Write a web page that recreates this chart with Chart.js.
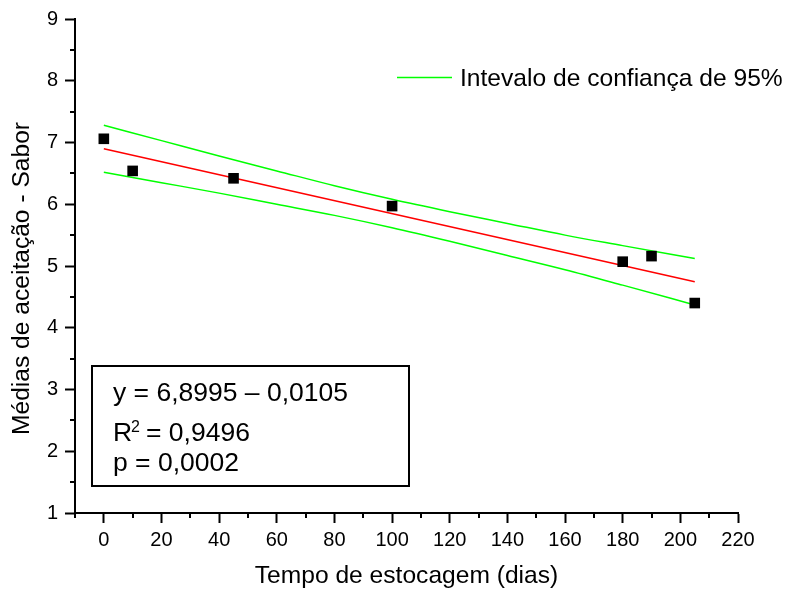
<!DOCTYPE html>
<html><head><meta charset="utf-8">
<script src="https://cdn.jsdelivr.net/npm/chart.js@4"></script>
<style>html,body{margin:0;padding:0;background:#fff}#wrap{width:790px;height:589px}</style>
</head><body><div id="wrap"><canvas id="c" width="790" height="589"></canvas></div>
<script>
// ---- data ----
const storageDays = [0, 10, 45, 100, 180, 190, 205];
const flavorMeans = [7.06, 6.54, 6.42, 5.97, 5.07, 5.16, 4.40];
const fitDays = [0, 205];
const fitValues = [6.90, 4.745];
const bandDays = [0, 20, 40, 60, 80, 100, 120, 140, 160, 180, 205];
const upperBand = [7.28, 7.03, 6.78, 6.54, 6.30, 6.08, 5.88, 5.69, 5.50, 5.33, 5.12];
const lowerBand = [6.52, 6.35, 6.18, 6.00, 5.82, 5.62, 5.40, 5.17, 4.94, 4.69, 4.37];
const xMajorTicks = [0, 20, 40, 60, 80, 100, 120, 140, 160, 180, 200, 220];
const xMinorTicks = [-10, 10, 30, 50, 70, 90, 110, 130, 150, 170, 190, 210];
const yMajorTicks = [1, 2, 3, 4, 5, 6, 7, 8, 9];
const yMinorTicks = [1.5, 2.5, 3.5, 4.5, 5.5, 6.5, 7.5, 8.5];
const legendLabel = 'Intevalo de confiança de 95%';
const xTitle = 'Tempo de estocagem (dias)';
const yTitle = 'Médias de aceitação - Sabor';
const statLines = ['y = 6,8995 – 0,0105', '0,9496', 'p = 0,0002'];

const FONT = '"Liberation Sans", Arial, sans-serif';
const toXY = (xs, ys) => xs.map((x, i) => ({x: x, y: ys[i]}));

const extras = {
  id: 'extras',
  afterDraw(chart) {
    const ctx = chart.ctx;
    const xs = chart.scales.x, ys = chart.scales.y;
    const ca = chart.chartArea;
    ctx.save();
    ctx.strokeStyle = '#000';
    ctx.lineWidth = 2;
    // minor ticks
    ctx.beginPath();
    xMinorTicks.forEach(v => {
      const p = Math.round(xs.getPixelForValue(v));
      ctx.moveTo(p, ca.bottom); ctx.lineTo(p, ca.bottom + 5);
    });
    yMinorTicks.forEach(v => {
      const p = Math.round(ys.getPixelForValue(v));
      ctx.moveTo(ca.left, p); ctx.lineTo(ca.left - 5, p);
    });
    ctx.stroke();

    // y title
    ctx.fillStyle = '#000';
    ctx.font = '24.6px ' + FONT;
    ctx.textAlign = 'center';
    ctx.textBaseline = 'middle';
    ctx.save();
    ctx.translate(22, 278.5);
    ctx.rotate(-Math.PI / 2);
    ctx.fillText(yTitle, 0, 0);
    ctx.restore();

    // legend
    ctx.strokeStyle = '#00ff00';
    ctx.lineWidth = 1.5;
    ctx.beginPath();
    ctx.moveTo(397, 77.5); ctx.lineTo(452, 77.5);
    ctx.stroke();
    ctx.textAlign = 'left';
    ctx.textBaseline = 'alphabetic';
    ctx.fillText(legendLabel, 460, 86);

    // stats box
    ctx.strokeStyle = '#000';
    ctx.lineWidth = 2;
    ctx.strokeRect(92, 366, 317, 120);
    ctx.font = '26.5px ' + FONT;
    ctx.fillText(statLines[0], 113, 401);
    ctx.fillText('R', 113, 441);
    ctx.font = '16px ' + FONT;
    ctx.fillText('2', 131, 432);
    ctx.font = '26.5px ' + FONT;
    ctx.fillText('= ' + statLines[1], 146, 441);
    ctx.fillText(statLines[2], 113, 471);
    ctx.restore();
  }
};

new Chart(document.getElementById('c'), {
  type: 'scatter',
  data: {
    datasets: [
      {label: legendLabel, data: toXY(bandDays, upperBand), showLine: true, borderColor: '#00ff00', borderWidth: 1.5, pointRadius: 0, cubicInterpolationMode: 'monotone', order: 3},
      {label: 'lower', data: toXY(bandDays, lowerBand), showLine: true, borderColor: '#00ff00', borderWidth: 1.5, pointRadius: 0, cubicInterpolationMode: 'monotone', order: 3},
      {label: 'fit', data: toXY(fitDays, fitValues), showLine: true, borderColor: '#ff0000', borderWidth: 1.5, pointRadius: 0, order: 2},
      {label: 'means', data: toXY(storageDays, flavorMeans), showLine: false, pointStyle: 'rect', pointRadius: 7.5, pointBackgroundColor: '#000', pointBorderWidth: 0, borderWidth: 0, order: 1}
    ]
  },
  options: {
    responsive: false,
    animation: false,
    devicePixelRatio: 1,
    layout: {padding: {top: 19, right: 52, left: 0, bottom: 0}},
    plugins: {legend: {display: false}, tooltip: {enabled: false}},
    scales: {
      x: {
        type: 'linear', min: -10, max: 220,
        afterBuildTicks: s => { s.ticks = xMajorTicks.map(v => ({value: v})); },
        afterFit: s => { s.height = 76; },
        grid: {display: true, drawOnChartArea: false, drawTicks: true, tickLength: 10, tickWidth: 2, color: '#000'},
        border: {display: true, color: '#000', width: 2},
        ticks: {color: '#000', font: {family: FONT, size: 20}, padding: 5, maxRotation: 0, autoSkip: false},
        title: {display: true, text: xTitle, color: '#000', font: {family: FONT, size: 24.6, lineHeight: 1}, padding: {top: 0, bottom: 0}}
      },
      y: {
        type: 'linear', min: 1, max: 9,
        afterBuildTicks: s => { s.ticks = yMajorTicks.map(v => ({value: v})); },
        afterFit: s => { s.width = 75; },
        grid: {display: true, drawOnChartArea: false, drawTicks: true, tickLength: 10, tickWidth: 2, color: '#000'},
        border: {display: true, color: '#000', width: 2},
        ticks: {color: '#000', font: {family: FONT, size: 20}, padding: 7, autoSkip: false}
      }
    }
  },
  plugins: [extras]
});
</script></body></html>
